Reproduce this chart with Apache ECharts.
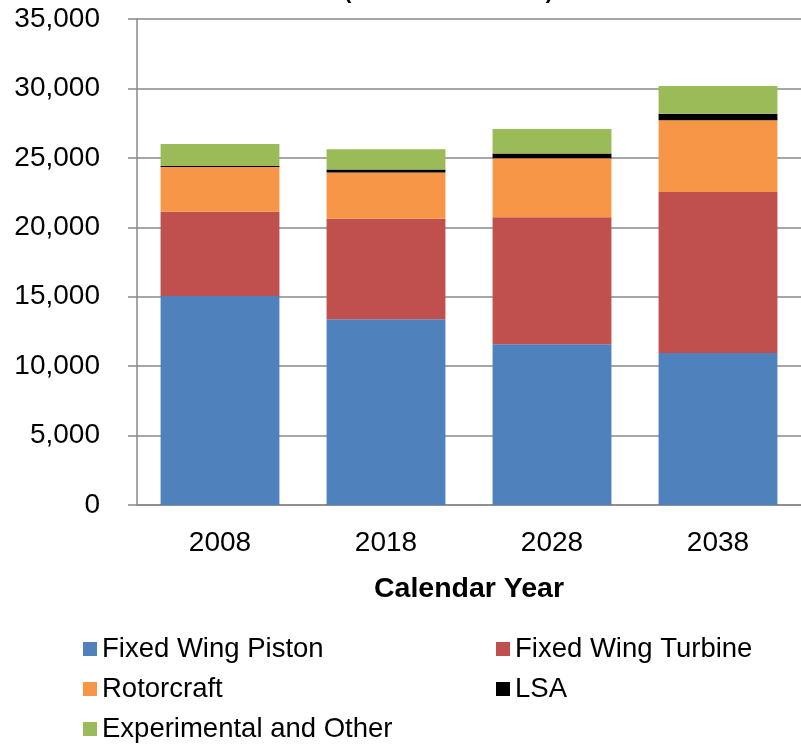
<!DOCTYPE html>
<html>
<head>
<meta charset="utf-8">
<script src="https://cdn.jsdelivr.net/npm/echarts@6/dist/echarts.min.js"></script>
<style>
  html, body { margin: 0; padding: 0; background: #fff; }
  #chart { width: 801px; height: 744px; }
</style>
</head>
<body>
<div id="chart"></div>
<script>
// data
const years = ["2008", "2018", "2028", "2038"];
const fixedWingPiston = [15050, 13370, 11570, 10950];
const fixedWingTurbine = [6070, 7240, 9160, 11590];
const rotorcraft = [3220, 3340, 4250, 5160];
const lsa = [70, 210, 340, 480];
const experimental = [1590, 1460, 1750, 1990];
const yTicks = [0, 5000, 10000, 15000, 20000, 25000, 30000, 35000];

const font = "Liberation Sans, Arial, sans-serif";
const colors = ["#4F81BD", "#C0504D", "#F79646", "#000000", "#9BBB59"];

const seriesList = [
  { name: "Fixed Wing Piston", data: fixedWingPiston },
  { name: "Fixed Wing Turbine", data: fixedWingTurbine },
  { name: "Rotorcraft", data: rotorcraft },
  { name: "LSA", data: lsa },
  { name: "Experimental and Other", data: experimental },
];

// one legend per entry, laid out as two columns of rows
const legendCols = [83, 496];
const legendRows = [635, 675, 715];
const legendSlots = [
  ["Fixed Wing Piston", 0, 0],
  ["Fixed Wing Turbine", 1, 0],
  ["Rotorcraft", 0, 1],
  ["LSA", 1, 1],
  ["Experimental and Other", 0, 2],
];

const myChart = echarts.init(document.getElementById("chart"), null, { renderer: "canvas" });
const option = {
  animation: false,
  color: colors,
  title: {
    text: "(Number of Aircraft)",
    left: 344,
    top: -19,
    padding: 0,
    textStyle: { fontFamily: font, fontSize: 22, fontWeight: "bold", color: "#000" },
  },
  legend: legendSlots.map(([name, col, row]) => ({
    orient: "horizontal",
    icon: "rect",
    padding: 0,
    left: legendCols[col],
    top: legendRows[row],
    itemWidth: 14,
    itemHeight: 14,
    itemTextGap: 6,
    textStyle: { fontFamily: font, fontSize: 27.5, color: "#000", lineHeight: 28 },
    data: [name],
  })),
  grid: {
    left: 137,
    top: 19,
    width: 676,
    height: 486,
  },
  xAxis: {
    type: "category",
    data: years,
    name: "Calendar Year",
    nameLocation: "middle",
    nameGap: 70,
    nameTextStyle: { fontFamily: font, fontSize: 28.5, fontWeight: "bold", color: "#000" },
    axisLine: { lineStyle: { color: "#888", width: 1.5 } },
    axisTick: { show: false },
    axisLabel: { fontFamily: font, fontSize: 28, color: "#000", margin: 24 },
  },
  yAxis: {
    type: "value",
    min: yTicks[0],
    max: yTicks[yTicks.length - 1],
    interval: 5000,
    axisLine: { show: true, lineStyle: { color: "#888", width: 1.5 } },
    axisTick: { show: true, inside: false, length: 9, lineStyle: { color: "#888", width: 1.5 } },
    axisLabel: {
      fontFamily: font,
      fontSize: 28,
      color: "#000",
      margin: 37,
      formatter: (v) => v.toLocaleString("en-US"),
    },
    splitLine: { lineStyle: { color: "#888", width: 1.5 } },
  },
  series: seriesList.map((s) => ({
    name: s.name,
    type: "bar",
    stack: "total",
    barCategoryGap: "28.4%",
    data: s.data,
  })),
};
myChart.setOption(option);
</script>
</body>
</html>
